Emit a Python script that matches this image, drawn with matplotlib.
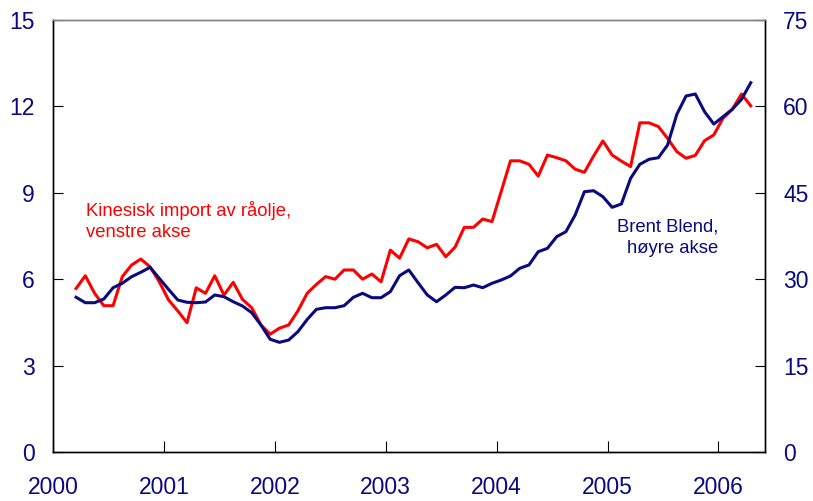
import numpy as np
import matplotlib

matplotlib.use("Agg")
import matplotlib.pyplot as plt

plt.rcParams["font.family"] = ["Liberation Sans", "DejaVu Sans"]

NAVY = "#0a0a80"
RED = "#ff0000"

# monthly data, March 2000 - April 2006
start_year = 2000
start_month = 3

china_import = [
    5.68, 6.12, 5.51, 5.08, 5.08, 6.09, 6.49, 6.70, 6.43, 5.91,
    5.28, 4.90, 4.49, 5.70, 5.51, 6.12, 5.45, 5.89, 5.30, 5.01,
    4.41, 4.09, 4.30, 4.41, 4.90, 5.51, 5.82, 6.09, 6.00, 6.32,
    6.32, 6.00, 6.18, 5.91, 7.01, 6.73, 7.40, 7.30, 7.09, 7.21,
    6.78, 7.11, 7.80, 7.80, 8.09, 8.00, 9.05, 10.11, 10.11, 9.99,
    9.58, 10.31, 10.22, 10.11, 9.82, 9.71, 10.28, 10.80, 10.31, 10.10,
    9.91, 11.43, 11.43, 11.30, 10.89, 10.43, 10.20, 10.30, 10.81, 11.01,
    11.59, 11.90, 12.43, 12.02,
]

brent = [
    26.86, 25.92, 25.92, 26.56, 28.52, 29.29, 30.43, 31.20, 32.07, 30.15,
    28.24, 26.39, 25.99, 25.92, 26.04, 27.26, 26.96, 26.09, 25.35, 24.18,
    22.05, 19.57, 19.04, 19.44, 20.89, 23.00, 24.77, 25.05, 25.05, 25.40,
    26.86, 27.55, 26.79, 26.79, 27.83, 30.61, 31.60, 29.39, 27.26, 26.09,
    27.26, 28.59, 28.52, 28.99, 28.52, 29.29, 29.86, 30.56, 31.89, 32.47,
    34.77, 35.36, 37.38, 38.25, 41.15, 45.19, 45.36, 44.32, 42.48, 43.06,
    47.52, 49.95, 50.82, 51.09, 53.30, 58.63, 61.81, 62.15, 59.08, 56.94,
    58.21, 59.50, 61.23, 64.11,
]

year_ticks = [2000, 2001, 2002, 2003, 2004, 2005, 2006]
left_ticks = [0, 3, 6, 9, 12, 15]
right_ticks = [0, 15, 30, 45, 60, 75]

# mid-month positions in decimal years
n = len(china_import)
dates = start_year + (start_month - 1 + np.arange(n) + 0.5) / 12.0

fig = plt.figure(figsize=(8.13, 5.01), dpi=100)
ax = fig.add_axes([53 / 813, 49 / 501, 712 / 813, 432 / 501])
ax2 = ax.twinx()

ax.plot(dates, china_import, color=RED, linewidth=2.2, zorder=3)
ax2.plot(dates, brent, color=NAVY, linewidth=2.2, zorder=3)

ax.set_xlim(2000, 2006.42)
ax.set_ylim(0, 15)
ax2.set_ylim(0, 75)
ax.set_xticks(year_ticks)
ax.set_yticks(left_ticks)
ax2.set_yticks(right_ticks)

for a in (ax, ax2):
    for side in ("left", "right", "bottom"):
        a.spines[side].set_color("black")
        a.spines[side].set_linewidth(1.0)
    a.spines["top"].set_color("#808080")
    a.spines["top"].set_linewidth(1.0)

ax.tick_params(axis="x", direction="in", length=8, width=0.8,
               labelsize=16.5, labelcolor=NAVY, pad=17)
ax.tick_params(axis="y", direction="in", length=7, width=0.8,
               labelsize=16.5, labelcolor=NAVY, pad=13)
ax2.tick_params(axis="y", direction="in", length=7, width=0.8,
                labelsize=16.5, labelcolor=NAVY, pad=13)

ax.text(2000.30, 8.19, "Kinesisk import av råolje,", color=RED,
        fontsize=13.3, ha="left", va="baseline")
ax.text(2000.30, 7.47, "venstre akse", color=RED,
        fontsize=13.3, ha="left", va="baseline")
ax.text(2006.0, 7.67, "Brent Blend,", color=NAVY,
        fontsize=13.3, ha="right", va="baseline")
ax.text(2006.0, 6.91, "høyre akse", color=NAVY,
        fontsize=13.3, ha="right", va="baseline")

fig.savefig("out.png", dpi=100)
